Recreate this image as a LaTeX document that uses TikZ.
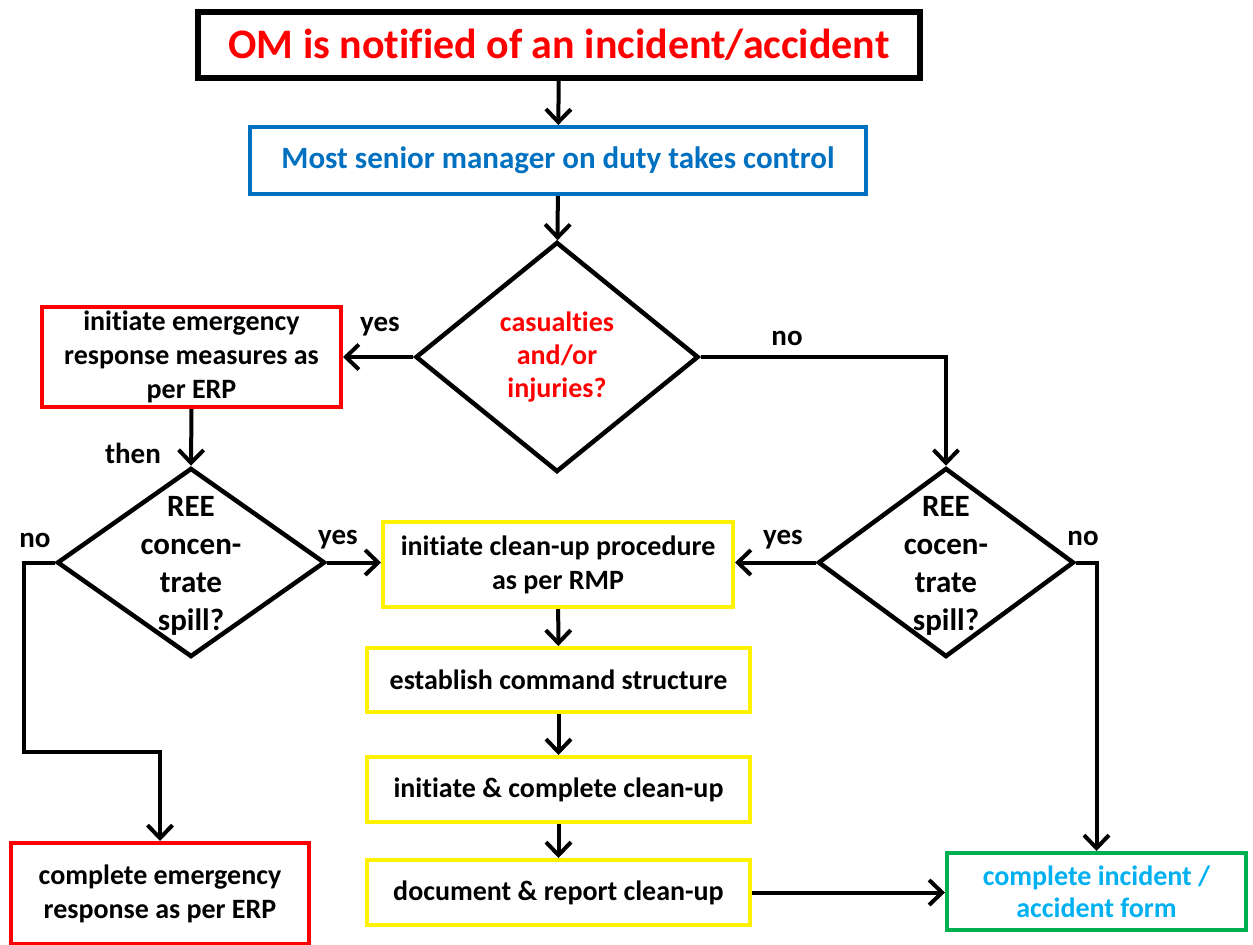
\documentclass[tikz,border=0pt]{standalone}
\usepackage{fontspec}
\setmainfont{Carlito}[Ligatures=NoCommon]
\usepackage{tikz}
\usetikzlibrary{shapes.geometric,arrows.meta}
\definecolor{mgrblue}{RGB}{0,112,192}
\definecolor{formgreen}{RGB}{0,176,80}
\definecolor{formtext}{RGB}{0,176,240}
\begin{document}
\begin{tikzpicture}[x=1pt,y=-1pt,
    box/.style={draw,line width=4pt,align=center,inner sep=0pt,
      font=\bfseries\fontsize{28}{34}\selectfont},
    decision/.style={diamond,draw,line width=4.5pt,inner sep=0pt},
    qtext/.style={align=center,font=\bfseries\fontsize{31}{38}\selectfont},
    flow/.style={line width=4pt,-{Straight Barb[length=13pt,width=25pt]}},
    lbl/.style={font=\bfseries\fontsize{29}{34}\selectfont}]
  \useasboundingbox (0,0) rectangle (1253,945);
  \node[box,line width=5.5pt,text=red,font=\bfseries\fontsize{42}{48}\selectfont,
    minimum width=722,minimum height=66] (om) at (559,45)
    {OM is notified of an incident/accident};
  \node[box,draw=mgrblue,text=mgrblue,font=\bfseries\fontsize{31}{34}\selectfont,
    minimum width=616,minimum height=67] (senior) at (558,160.5)
    {Most senior manager on duty takes control};
  \node[decision,minimum width=283,minimum height=230] (cas) at (557,357) {};
  \node[qtext,text=red,font=\bfseries\fontsize{28}{33}\selectfont] (castext) at (cas)
    {casualties\\and/or\\injuries?};
  \node[box,draw=red,minimum width=299,minimum height=100] (erpa) at (191.5,357)
    {initiate emergency\\response measures as\\per ERP};
  \node[decision,minimum width=268,minimum height=189] (spilla) at (191,562.5) {};
  \node[qtext] (spillatext) at (191,566) {REE\\concen-\\trate\\spill?};
  \node[decision,minimum width=256,minimum height=189] (spillb) at (946,562.5) {};
  \node[qtext] (spillbtext) at (946,566) {REE\\cocen-\\trate\\spill?};
  \node[box,draw=yellow,minimum width=350,minimum height=85] (clean) at (558,564.5)
    {initiate clean-up procedure\\as per RMP};
  \node[box,draw=yellow,minimum width=383,minimum height=64] (command) at (558.5,680)
    {establish command structure};
  \node[box,draw=yellow,minimum width=383,minimum height=65] (cleanup) at (558.5,789.5)
    {initiate \& complete clean-up};
  \node[box,draw=yellow,minimum width=383,minimum height=65] (report) at (558.5,892.5)
    {document \& report clean-up};
  \node[box,draw=red,minimum width=298,minimum height=101] (erpb) at (160,893.5)
    {complete emergency\\response as per ERP};
  \node[box,draw=formgreen,text=formtext,font=\bfseries\fontsize{28}{32}\selectfont,
    minimum width=299,minimum height=77] (form) at (1096.5,891.5)
    {complete incident /\\accident form};
  \coordinate (turn) at (24,752);

  \draw[flow] (om) -- (senior);
  \draw[flow] (senior) -- (cas);
  \draw[flow] (cas.west) -- (erpa.east);
  \draw[flow] (cas.east) -| (spillb.north);
  \draw[flow] (erpa.south) -- (spilla.north);
  \draw[flow] (spilla.east) -- (spilla.east -| clean.west);
  \draw[flow] (spillb.west) -- (spillb.west -| clean.east);
  \draw[flow] (spilla.west) -| (turn) -| (erpb.north);
  \draw[flow] (spillb.east) -| (form.north);
  \draw[flow] (clean) -- (command);
  \draw[flow] (command) -- (cleanup);
  \draw[flow] (cleanup) -- (report);
  \draw[flow] (report.east) -- (report.east -| form.west);

  \node[lbl] (yesa) at (380,327) {yes};
  \node[lbl] (then) at (133,453) {then};
  \node[lbl] (noa) at (35,540) {no};
  \node[lbl] (yesb) at (338,540) {yes};
  \node[lbl] (nob) at (787,338) {no};
  \node[lbl] (yesc) at (783,540) {yes};
  \node[lbl] (noc) at (1083,538) {no};
\end{tikzpicture}
\end{document}
